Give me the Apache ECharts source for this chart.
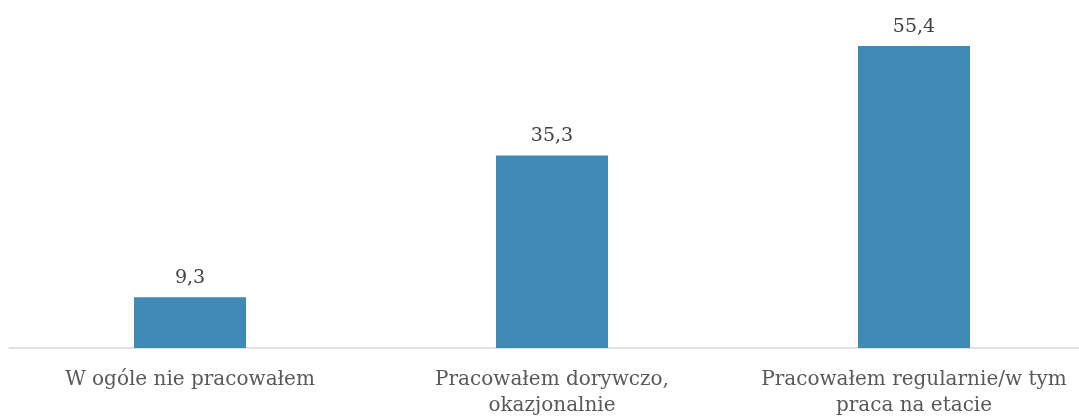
<!DOCTYPE html>
<html><head><meta charset="utf-8">
<script src="https://cdn.jsdelivr.net/npm/echarts@6/dist/echarts.min.js"></script>
<style>html,body{margin:0;padding:0;background:#fff}#c{width:1079px;height:418px}</style>
</head><body><div id="c"></div>
<script>
const categories = ['W ogóle nie pracowałem', 'Pracowałem dorywczo,\nokazjonalnie', 'Pracowałem regularnie/w tym\npraca na etacie'];
const values = [9.3, 35.3, 55.4];
const chart = echarts.init(document.getElementById('c'));
chart.setOption({
  animation: false,
  grid: {left: 9, width: 1086, top: 21, height: 327, containLabel: false, outerBoundsMode: 'none'},
  xAxis: {
    type: 'category', data: categories,
    axisLine: {lineStyle: {color: '#d9d9d9', width: 1.5}},
    axisTick: {show: false},
    axisLabel: {color: '#595959', fontFamily: 'DejaVu Serif', fontSize: 20, lineHeight: 26, margin: 19, interval: 0}
  },
  yAxis: {type: 'value', min: 0, max: 60, show: false, splitLine: {show: false}},
  series: [{
    type: 'bar', data: values, barWidth: 112,
    itemStyle: {color: '#3f8ab5'},
    label: {show: true, position: 'top', distance: 10, color: '#404040', fontFamily: 'DejaVu Serif', fontSize: 19,
      formatter: p => String(p.value).replace('.', ',')}
  }]
});
</script></body></html>
